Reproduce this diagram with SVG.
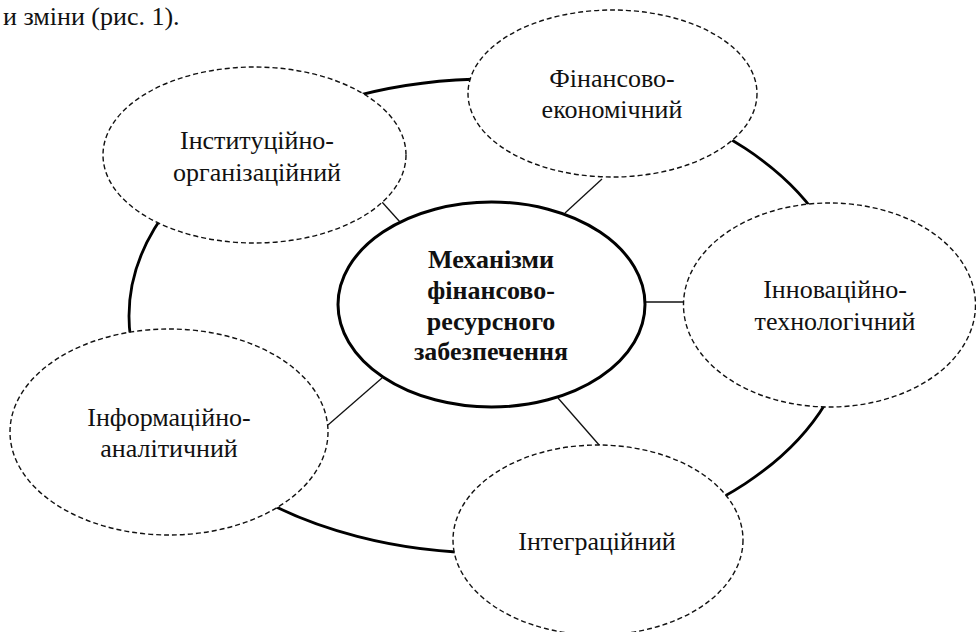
<svg xmlns="http://www.w3.org/2000/svg" width="976" height="632" viewBox="0 0 976 632">
<style>
.bg{fill:#fff}
.txt{font-family:"Liberation Serif","Times New Roman",serif;font-size:26px;fill:#111;text-anchor:middle}
.ctr{font-weight:bold}
.node{fill:#fff;stroke:#111;stroke-width:1.4;stroke-dasharray:5 3}
.core{fill:#fff;stroke:#000;stroke-width:3}
.ring{fill:none;stroke:#000;stroke-width:2.8}
.link{stroke:#111;stroke-width:1.3;fill:none}
</style>
<rect class="bg" x="0" y="0" width="976" height="632"/>
<text class="txt" x="3" y="25" style="text-anchor:start">и зміни (рис. 1).</text>
<g id="connectors">
<ellipse class="ring" cx="490" cy="316" rx="361" ry="237"/>
<line class="link" x1="565" y1="213" x2="602" y2="179"/>
<line class="link" x1="382" y1="202" x2="400" y2="222"/>
<line class="link" x1="645" y1="302" x2="683" y2="302"/>
<line class="link" x1="382" y1="378" x2="328" y2="425"/>
<line class="link" x1="558" y1="398" x2="600" y2="446"/>
</g>
<g id="node-finance">
<ellipse class="node" cx="612.5" cy="93.5" rx="144.5" ry="83.5"/>
<text class="txt" x="612" y="87">Фінансово-</text>
<text class="txt" x="612" y="118">економічний</text>
</g>
<g id="node-institutional">
<ellipse class="node" cx="254.5" cy="155" rx="151.5" ry="88"/>
<text class="txt" x="257" y="149">Інституційно-</text>
<text class="txt" x="257" y="181">організаційний</text>
</g>
<g id="node-innovation">
<ellipse class="node" cx="829.5" cy="305" rx="146" ry="102"/>
<text class="txt" x="835" y="298">Інноваційно-</text>
<text class="txt" x="835" y="330">технологічний</text>
</g>
<g id="node-information">
<ellipse class="node" cx="169" cy="432" rx="159" ry="103"/>
<text class="txt" x="169" y="426">Інформаційно-</text>
<text class="txt" x="169" y="457">аналітичний</text>
</g>
<g id="node-integration">
<ellipse class="node" cx="598" cy="540" rx="145" ry="95"/>
<text class="txt" x="597" y="550">Інтеграційний</text>
</g>
<g id="node-core">
<ellipse class="core" cx="491.5" cy="304.5" rx="153.5" ry="102.5"/>
<text class="txt ctr" x="491" y="268">Механізми</text>
<text class="txt ctr" x="491" y="299">фінансово-</text>
<text class="txt ctr" x="491" y="330">ресурсного</text>
<text class="txt ctr" x="491" y="360">забезпечення</text>
</g>
</svg>
